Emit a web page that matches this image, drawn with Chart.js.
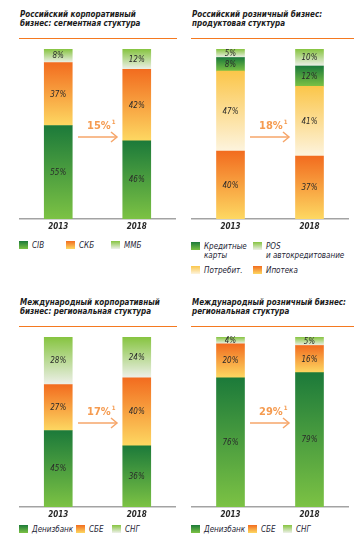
<!DOCTYPE html>
<html>
<head>
<meta charset="utf-8">
<script src="https://cdn.jsdelivr.net/npm/chart.js@4.4.0/dist/chart.umd.min.js"></script>
<style>
  body { margin: 0; background: #fff; width: 354px; height: 542px; position: relative; overflow: hidden;
         font-family: 'Liberation Sans Narrow', 'DejaVu Sans Condensed', sans-serif; }
  .title { position: absolute; font-weight: bold; font-style: italic; font-size: 8px; line-height: 9px; color: #1b1b1b; white-space: nowrap; }
  .rule { position: absolute; height: 1px; background: #f47920; }
  .chart { position: absolute; }
  .growth { position: absolute; color: #f59b50; font-weight: bold; font-size: 11px; white-space: nowrap; }
  .growth sup { font-size: 6px; vertical-align: 5px; margin-left: 1px; }
  .arrow { position: absolute; }
  .leg { position: absolute; font-style: italic; font-size: 8px; line-height: 9px; color: #1e2535; white-space: nowrap; }
  .leg i { position: absolute; left: 0; top: 0; width: 9px; height: 8px; }
  .leg span { position: absolute; left: 13px; top: 0; }
</style>
</head>
<body>
<script>
const years = ['2013', '2018'];

// Российский корпоративный бизнес
const ruCorpCib = [55, 46];
const ruCorpSkb = [37, 42];
const ruCorpMmb = [8, 12];

// Российский розничный бизнес
const ruRetMortgage = [40, 37];
const ruRetConsumer = [47, 41];
const ruRetCards = [8, 12];
const ruRetPos = [5, 10];

// Международный корпоративный бизнес
const intCorpDeniz = [45, 36];
const intCorpSbe = [27, 40];
const intCorpCis = [28, 24];

// Международный розничный бизнес
const intRetDeniz = [76, 79];
const intRetSbe = [20, 16];
const intRetCis = [4, 5];

const growth = ['15%', '18%', '17%', '29%'];

const GREEN = ['#1c7a3a', '#7cc244'];
const ORANGE = ['#f26c1f', '#fdd862'];
const LIGHT = ['#86c440', '#eef0ea'];
const YELLOW = ['#fbc64a', '#fdf4de'];

function gradientFill(stops) {
  return (ctx) => {
    const chart = ctx.chart;
    const y = chart.scales && chart.scales.y;
    if (!y || ctx.type !== 'data') return stops[0];
    let base = 0;
    for (let d = 0; d < ctx.datasetIndex; d++) base += chart.data.datasets[d].data[ctx.dataIndex];
    const top = base + chart.data.datasets[ctx.datasetIndex].data[ctx.dataIndex];
    const y0 = y.getPixelForValue(top), y1 = y.getPixelForValue(base);
    if (!isFinite(y0) || !isFinite(y1) || y0 === y1) return stops[0];
    const g = chart.ctx.createLinearGradient(0, y0, 0, y1);
    g.addColorStop(0, stops[0]);
    g.addColorStop(1, stops[1]);
    return g;
  };
}

const segLabels = {
  id: 'segLabels',
  afterDatasetsDraw(chart) {
    const ctx = chart.ctx;
    ctx.save();
    ctx.font = 'italic 8px "Liberation Sans Narrow", "DejaVu Sans Condensed", sans-serif';
    ctx.fillStyle = '#2a2a2a';
    ctx.textAlign = 'center';
    ctx.textBaseline = 'middle';
    chart.data.datasets.forEach((ds, d) => {
      chart.getDatasetMeta(d).data.forEach((bar, i) => {
        ctx.fillText(ds.data[i] + '%', bar.x, (bar.y + bar.base) / 2 + 0.5);
      });
    });
    ctx.restore();
  }
};

function el(tag, cls, style, html) {
  const e = document.createElement(tag);
  if (cls) e.className = cls;
  Object.assign(e.style, style);
  if (html) e.innerHTML = html;
  document.body.appendChild(e);
  return e;
}

function panel(p) {
  el('div', 'title', { left: p.x + 1 + 'px', top: p.y + 'px' }, p.title.join('<br>'));
  el('div', 'rule', { left: p.x + 'px', top: p.y + 28 + 'px', width: p.w + 'px' });

  const box = el('div', 'chart', { left: p.x + 'px', top: p.y + 35 + 'px', width: p.axisW + 'px', height: '190px' });
  const canvas = document.createElement('canvas');
  canvas.width = p.axisW;
  canvas.height = 190;
  box.appendChild(canvas);
  new Chart(canvas, {
    type: 'bar',
    data: {
      labels: years,
      datasets: p.series.map(s => ({ data: s.data, backgroundColor: gradientFill(s.colors), borderWidth: 0, barThickness: 28 }))
    },
    options: {
      responsive: false,
      animation: false,
      maintainAspectRatio: false,
      layout: { padding: { top: 4, left: 0, right: 0, bottom: 0 } },
      plugins: { legend: { display: false }, tooltip: { enabled: false } },
      scales: {
        x: {
          stacked: true,
          grid: { display: false, drawTicks: false },
          border: { color: '#a3a3a3', width: 1.5 },
          ticks: { color: '#2a2a2a', padding: 3, font: { family: '"Liberation Sans Narrow", "DejaVu Sans Condensed", sans-serif', size: 8, style: 'italic', weight: 'bold' } },
          afterFit: (s) => { s.height = 16; }
        },
        y: { stacked: true, display: false, min: 0, max: 100 }
      }
    },
    plugins: [segLabels]
  });

  el('div', 'growth', { left: p.gx + 'px', top: p.gy + 'px' }, p.growth + '<sup>1</sup>');
  el('div', 'arrow', { left: p.gx - 9 + 'px', top: p.gy + 10 + 'px' },
    '<svg width="42" height="12"><g stroke="#f6a66a" stroke-width="1.5" fill="none">' +
    '<line x1="0" y1="6" x2="39" y2="6"/><polyline points="33,1 39,6 33,11"/></g></svg>');

  p.legend.forEach(l => {
    const it = el('div', 'leg', { left: l.x + 'px', top: l.y + 'px' }, '<i></i><span>' + l.text + '</span>');
    it.querySelector('i').style.background = 'linear-gradient(' + l.colors[0] + ',' + l.colors[1] + ')';
  });
}

panel({
  x: 19, y: 10, w: 158, axisW: 157,
  title: ['Российский корпоративный', 'бизнес: сегментная стуктура'],
  series: [{ data: ruCorpCib, colors: GREEN }, { data: ruCorpSkb, colors: ORANGE }, { data: ruCorpMmb, colors: LIGHT }],
  growth: growth[0], gx: 87, gy: 118,
  legend: [
    { x: 19, y: 241, text: 'CIB', colors: GREEN },
    { x: 66, y: 241, text: 'СКБ', colors: ORANGE },
    { x: 111, y: 241, text: 'ММБ', colors: LIGHT }
  ]
});

panel({
  x: 191, y: 10, w: 163, axisW: 158,
  title: ['Российский розничный бизнес:', 'продуктовая стуктура'],
  series: [{ data: ruRetMortgage, colors: ORANGE }, { data: ruRetConsumer, colors: YELLOW }, { data: ruRetCards, colors: GREEN }, { data: ruRetPos, colors: LIGHT }],
  growth: growth[1], gx: 259, gy: 118,
  legend: [
    { x: 191, y: 242, text: 'Кредитные<br>карты', colors: GREEN },
    { x: 253, y: 242, text: 'POS<br>и автокредитование', colors: LIGHT },
    { x: 191, y: 266, text: 'Потребит.', colors: YELLOW },
    { x: 253, y: 266, text: 'Ипотека', colors: ORANGE }
  ]
});

panel({
  x: 19, y: 298, w: 158, axisW: 157,
  title: ['Международный корпоративный', 'бизнес: региональная стуктура'],
  series: [{ data: intCorpDeniz, colors: GREEN }, { data: intCorpSbe, colors: ORANGE }, { data: intCorpCis, colors: LIGHT }],
  growth: growth[2], gx: 87, gy: 404,
  legend: [
    { x: 19, y: 525, text: 'Денизбанк', colors: GREEN },
    { x: 76, y: 525, text: 'СБЕ', colors: ORANGE },
    { x: 112, y: 525, text: 'СНГ', colors: LIGHT }
  ]
});

panel({
  x: 191, y: 298, w: 163, axisW: 158,
  title: ['Международный розничный бизнес:', 'региональная стуктура'],
  series: [{ data: intRetDeniz, colors: GREEN }, { data: intRetSbe, colors: ORANGE }, { data: intRetCis, colors: LIGHT }],
  growth: growth[3], gx: 259, gy: 404,
  legend: [
    { x: 191, y: 525, text: 'Денизбанк', colors: GREEN },
    { x: 248, y: 525, text: 'СБЕ', colors: ORANGE },
    { x: 283, y: 525, text: 'СНГ', colors: LIGHT }
  ]
});
</script>
</body>
</html>
